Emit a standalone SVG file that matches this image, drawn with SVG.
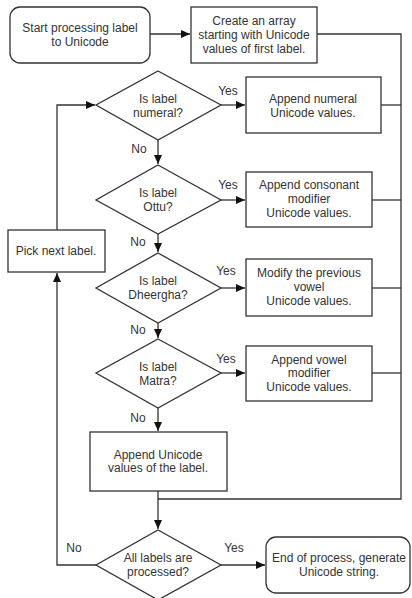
<svg xmlns="http://www.w3.org/2000/svg" width="412" height="598" viewBox="0 0 412 598">
<defs>
<style>
.n{fill:#fff;stroke:#333;stroke-width:1.3}
.t{font-family:"Liberation Sans",Arial,sans-serif;font-size:12px;fill:#333;text-anchor:middle}
.c{fill:none;stroke:#333;stroke-width:1.3}
</style>
<marker id="ah" markerWidth="10" markerHeight="10" refX="9" refY="5" orient="auto" markerUnits="userSpaceOnUse">
<path d="M0,1 L9,5 L0,9 Z" fill="#111"/>
</marker>
</defs>
<rect width="412" height="598" fill="#fff"/>
<g id="connectors">
<path class="c" d="M150,34 H190" marker-end="url(#ah)"/>
<path class="c" d="M317,34 H401 V499 H158"/>
<path class="c" d="M221,105 H245" marker-end="url(#ah)"/>
<path class="c" d="M381,105 H401"/>
<path class="c" d="M158,140 V164" marker-end="url(#ah)"/>
<path class="c" d="M221,200 H245" marker-end="url(#ah)"/>
<path class="c" d="M372,200 H401"/>
<path class="c" d="M158,234 V252" marker-end="url(#ah)"/>
<path class="c" d="M221,288 H245" marker-end="url(#ah)"/>
<path class="c" d="M372,288 H401"/>
<path class="c" d="M158,323 V338" marker-end="url(#ah)"/>
<path class="c" d="M221,373 H245" marker-end="url(#ah)"/>
<path class="c" d="M372,373 H401"/>
<path class="c" d="M158,408 V431" marker-end="url(#ah)"/>
<path class="c" d="M158,491 V529" marker-end="url(#ah)"/>
<path class="c" d="M221,565 H265" marker-end="url(#ah)"/>
<path class="c" d="M96,565 H57 V273" marker-end="url(#ah)"/>
<path class="c" d="M57,230 V105 H95" marker-end="url(#ah)"/>
<text class="t" x="228" y="95">Yes</text>
<text class="t" x="139" y="153">No</text>
<text class="t" x="228" y="189">Yes</text>
<text class="t" x="138" y="246">No</text>
<text class="t" x="226" y="275">Yes</text>
<text class="t" x="138" y="334">No</text>
<text class="t" x="226" y="363">Yes</text>
<text class="t" x="138" y="422">No</text>
<text class="t" x="234" y="552">Yes</text>
<text class="t" x="74" y="552">No</text>
</g>
<g id="start">
<rect class="n" x="10" y="7" width="140" height="56" rx="10"/>
<text class="t" x="80" y="32">Start processing label</text>
<text class="t" x="80" y="46">to Unicode</text>
</g>
<g id="create">
<rect class="n" x="191" y="7" width="126" height="56"/>
<text class="t" x="254" y="25">Create an array</text>
<text class="t" x="254" y="39">starting with Unicode</text>
<text class="t" x="254" y="53">values of first label.</text>
</g>
<g id="d-numeral">
<path class="n" d="M158,71 L221,105 L158,140 L96,105 Z"/>
<text class="t" x="158" y="103">Is label</text>
<text class="t" x="158" y="117">numeral?</text>
</g>
<g id="numeral">
<rect class="n" x="246" y="77" width="135" height="56"/>
<text class="t" x="313" y="103">Append numeral</text>
<text class="t" x="313" y="117">Unicode values.</text>
</g>
<g id="d-ottu">
<path class="n" d="M158,165 L221,200 L158,234 L96,200 Z"/>
<text class="t" x="158" y="197">Is label</text>
<text class="t" x="158" y="211">Ottu?</text>
</g>
<g id="ottu">
<rect class="n" x="246" y="172" width="126" height="55"/>
<text class="t" x="309" y="189">Append consonant</text>
<text class="t" x="309" y="203">modifier</text>
<text class="t" x="309" y="217">Unicode values.</text>
</g>
<g id="pick">
<rect class="n" x="8" y="230" width="97" height="42"/>
<text class="t" x="56" y="255">Pick next label.</text>
</g>
<g id="d-dheergha">
<path class="n" d="M158,253 L221,288 L158,323 L96,288 Z"/>
<text class="t" x="158" y="285">Is label</text>
<text class="t" x="158" y="299">Dheergha?</text>
</g>
<g id="dheergha">
<rect class="n" x="246" y="259" width="126" height="57"/>
<text class="t" x="309" y="277">Modify the previous</text>
<text class="t" x="309" y="291">vowel</text>
<text class="t" x="309" y="305">Unicode values.</text>
</g>
<g id="d-matra">
<path class="n" d="M158,339 L221,373 L158,408 L96,373 Z"/>
<text class="t" x="158" y="371">Is label</text>
<text class="t" x="158" y="385">Matra?</text>
</g>
<g id="matra">
<rect class="n" x="246" y="346" width="126" height="55"/>
<text class="t" x="309" y="364">Append vowel</text>
<text class="t" x="309" y="377">modifier</text>
<text class="t" x="309" y="391">Unicode values.</text>
</g>
<g id="append">
<rect class="n" x="90" y="432" width="137" height="59"/>
<text class="t" x="158" y="459">Append Unicode</text>
<text class="t" x="158" y="472">values of the label.</text>
</g>
<g id="d-all">
<path class="n" d="M158,530 L221,565 L158,600 L96,565 Z"/>
<text class="t" x="158" y="562">All labels are</text>
<text class="t" x="158" y="576">processed?</text>
</g>
<g id="end">
<rect class="n" x="266" y="537" width="144" height="56" rx="10"/>
<text class="t" x="339" y="562">End of process, generate</text>
<text class="t" x="339" y="576">Unicode string.</text>
</g>
</svg>
